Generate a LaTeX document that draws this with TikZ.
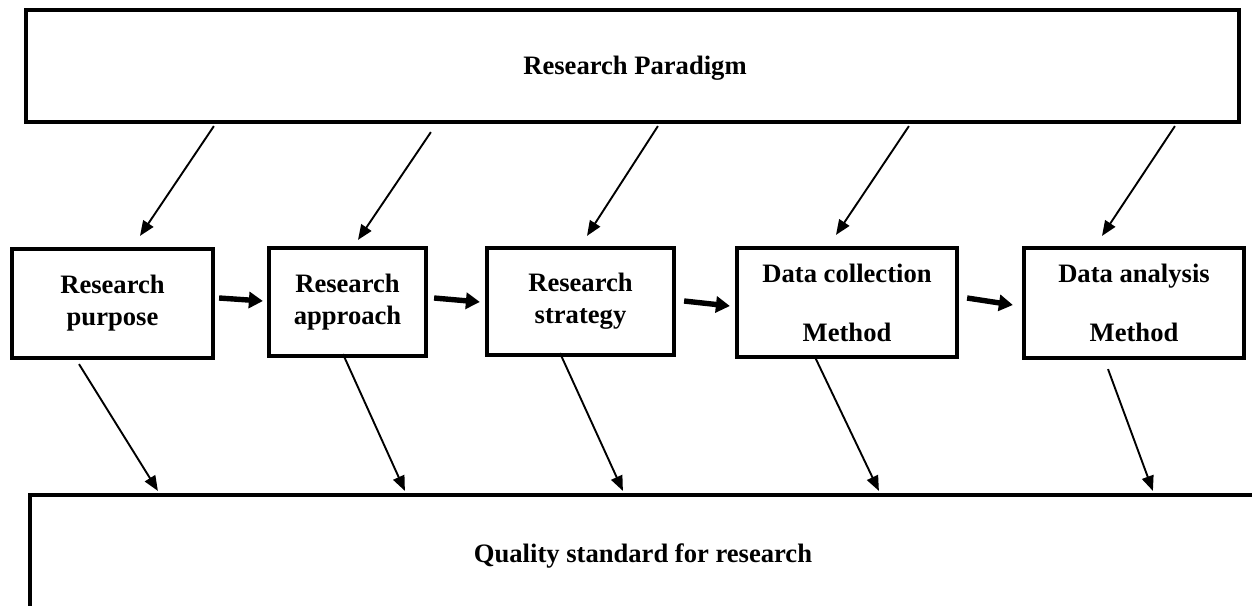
\documentclass[tikz,border=0pt]{standalone}
\usepackage{fontspec}
\setmainfont{Liberation Serif}
\usetikzlibrary{arrows.meta,calc}
\tikzset{
  box/.style={draw=black, line width=4.2pt, fill=white, inner sep=0pt,
    align=center, font=\bfseries\fontsize{26.6}{32}\selectfont},
  thinarrow/.style={line width=1.9pt, -{Triangle[length=15pt,width=12pt]}},
  thickarrow/.style={line width=5.4pt, -{Triangle[length=14pt,width=16pt]}},
  plaintext/.style={inner sep=0pt, align=center, font=\bfseries\fontsize{26.6}{32}\selectfont}
}
\begin{document}
\begin{tikzpicture}[x=1pt,y=-1pt]
\useasboundingbox (0,0) rectangle (1252,605);
\fill[white] (0,0) rectangle (1252,605);
\clip (0,0) rectangle (1252,605);

% boxes
\node[box, minimum width=1213pt, minimum height=112pt] (top) at (632.5,66) {};
\node[plaintext] (toptext) at (635,68) {Research Paradigm};

\node[box, minimum width=201pt, minimum height=109pt] (b1) at (112.5,303.5) {Research\\purpose};
\node[box, minimum width=157pt, minimum height=108pt] (b2) at (347.5,302) {Research\\approach};
\node[box, minimum width=187pt, minimum height=107pt] (b3) at (580.5,301.5) {Research\\strategy};
\node[box, minimum width=220pt, minimum height=109pt] (b4) at (847,302.5) {Data collection\\[27pt]Method};
\node[box, minimum width=220pt, minimum height=110pt] (b5) at (1134,303) {Data analysis\\[27pt]Method};

\node[box, minimum width=1270pt, minimum height=170pt] (bot) at (665,580) {};
\node[plaintext] (bottext) at (643,556) {Quality standard for research};

% arrows from paradigm
\draw[thinarrow] ($(top.south west)+(190,2)$) -- ($(b1.north)+(27.5,-11)$);
\draw[thinarrow] ($(top.south west)+(407,8)$) -- ($(b2.north)+(10.5,-6)$);
\draw[thinarrow] ($(top.south west)+(634,2)$) -- ($(b3.north)+(6.5,-10)$);
\draw[thinarrow] ($(top.south west)+(885,2)$) -- ($(b4.north)+(-11,-11)$);
\draw[thinarrow] ($(top.south west)+(1151,2)$) -- ($(b5.north)+(-32,-10)$);

% arrows to quality standard
\draw[thinarrow] ($(b1.south)+(-33.5,4)$) -- ($(bot.north west)+(130,-2)$);
\draw[thinarrow] ($(b2.south)+(-4.5,-4)$) -- ($(bot.north west)+(377,-2)$);
\draw[thinarrow] ($(b3.south)+(-20.5,-4)$) -- ($(bot.north west)+(595,-2)$);
\draw[thinarrow] ($(b4.south)+(-32,-2)$) -- ($(bot.north west)+(851,-2)$);
\draw[thinarrow] ($(b5.south)+(-26,9)$) -- ($(bot.north west)+(1125,-2)$);

% flow arrows
\draw[thickarrow] ($(b1.east)+(4,-5.5)$) -- ($(b2.west)+(-4,-1)$);
\draw[thickarrow] ($(b2.east)+(6,-4)$) -- ($(b3.west)+(-5,0.5)$);
\draw[thickarrow] ($(b3.east)+(8,-0.5)$) -- ($(b4.west)+(-5,3.5)$);
\draw[thickarrow] ($(b4.east)+(8,-4.5)$) -- ($(b5.west)+(-9,2)$);
\end{tikzpicture}
\end{document}
